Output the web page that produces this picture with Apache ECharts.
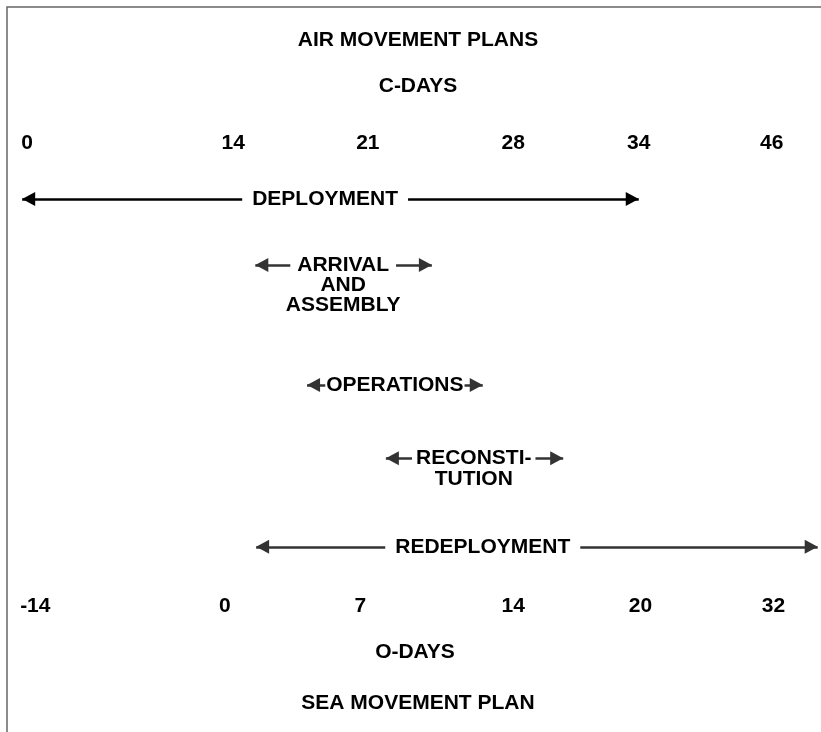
<!DOCTYPE html>
<html><head><meta charset="utf-8">
<script src="https://cdn.jsdelivr.net/npm/echarts@6/dist/echarts.min.js"></script>
<style>html,body{margin:0;padding:0;background:#fff}#c{width:821px;height:732px}</style>
</head><body><div id="c"></div>
<script>
// ---- data (schematic units: x 0-100 across, y 0-100 down) ----
const cDayLabels = ['0', '14', '21', '28', '34', '46'];
const cDayX = [3.3, 28.4, 44.8, 62.5, 77.8, 94.0];
const cDayRow = 19.5;

const oDayLabels = ['-14', '0', '7', '14', '20', '32'];
const oDayX = [4.3, 27.4, 43.9, 62.5, 78.0, 94.2];
const oDayRow = 82.8;

const phaseNames = ['DEPLOYMENT', 'ARRIVAL\nAND\nASSEMBLY', 'OPERATIONS', 'RECONSTI-\nTUTION', 'REDEPLOYMENT'];
const phaseStart = [2.7, 31.1, 37.4, 47.0, 31.2];
const phaseEnd = [77.8, 52.6, 58.8, 68.6, 99.6];
const phaseRow = [27.2, 36.2, 52.6, 62.6, 74.7];
const phaseLabelX = [39.6, 41.8, 48.1, 57.7, 58.8];

// ---- styling / option construction ----
const FONT = 'Liberation Sans, Arial, Helvetica, sans-serif';
const labelPad = [10, 7, 1, 4, 10];
const lineColors = ['#000', '#333', '#333', '#333', '#333'];
// triangle whose tip sits at the centre of the symbol box (so the tip lands on the line end)
const ARROW = 'path://M0 0L0 0M0 13L7 26L-7 26Z';

const chart = echarts.init(document.getElementById('c'), null, {renderer: 'canvas'});

const textStyleBase = {
  fontFamily: FONT, fontWeight: 'bold', fontSize: 21, color: '#000',
  textBorderWidth: 0, textBorderColor: 'transparent', textShadowBlur: 0
};

function tickSeries(labels, xs, row) {
  return {
    type: 'scatter', symbolSize: 0, itemStyle: {color: 'rgba(0,0,0,0)', opacity: 1}, silent: true, z: 5,
    data: labels.map((l, i) => [xs[i], row, l]),
    label: Object.assign({
      show: true, position: [0, 0], align: 'center', verticalAlign: 'middle', opacity: 1,
      formatter: p => p.value[2]
    }, textStyleBase)
  };
}

const phaseLines = phaseNames.map((n, i) => ({
  coords: [[phaseStart[i], phaseRow[i]], [phaseEnd[i], phaseRow[i]]],
  lineStyle: {color: lineColors[i]},
  itemStyle: {color: lineColors[i]}
}));

const phaseLabels = phaseNames.map((n, i) => {
  const parts = n.split('\n');
  return {
    value: [phaseLabelX[i], phaseRow[i]],
    label: {
      formatter: '{h|' + parts[0] + '}' + parts.slice(1).map(s => '\n{b|' + s + '}').join(''),
      rich: {
        h: Object.assign({}, textStyleBase, {backgroundColor: '#fff', padding: [0, labelPad[i]], lineHeight: 21, align: 'center'}),
        b: Object.assign({}, textStyleBase, {lineHeight: 20, align: 'center'})
      }
    }
  };
});

const titleAt = (text, x, y) => ({
  text, left: x, top: y, textAlign: 'center', padding: 0,
  textStyle: Object.assign({}, textStyleBase, {lineHeight: 21})
});

chart.setOption({
  backgroundColor: '#fff',
  animation: false,
  title: [
    titleAt('AIR MOVEMENT PLANS', 418, 30),
    titleAt('C-DAYS', 418, 76),
    titleAt('O-DAYS', 415, 642),
    titleAt('SEA MOVEMENT PLAN', 418, 693)
  ],
  grid: {left: 0, right: 0, top: 0, bottom: 0},
  xAxis: {type: 'value', min: 0, max: 100, show: false},
  yAxis: {type: 'value', min: 0, max: 100, inverse: true, show: false},
  graphic: [
    {type: 'polyline', shape: {points: [[7, 732], [7, 7], [821, 7]]}, style: {stroke: '#666', lineWidth: 1.5, fill: null}, silent: true}
  ],
  series: [
    tickSeries(cDayLabels, cDayX, cDayRow),
    tickSeries(oDayLabels, oDayX, oDayRow),
    {
      type: 'lines', coordinateSystem: 'cartesian2d', silent: true, z: 2,
      symbol: [ARROW, ARROW], symbolSize: [[14, 26], [14, 26]],
      lineStyle: {width: 2.6, opacity: 1, curveness: 0},
      data: phaseLines
    },
    {
      type: 'scatter', symbolSize: 0, itemStyle: {color: 'rgba(0,0,0,0)', opacity: 1}, silent: true, z: 10,
      data: phaseLabels,
      label: Object.assign({}, textStyleBase, {
        show: true, position: [0, 0], align: 'center', verticalAlign: 'top', offset: [0, -10.5], opacity: 1
      })
    }
  ]
});
</script>
</body></html>
